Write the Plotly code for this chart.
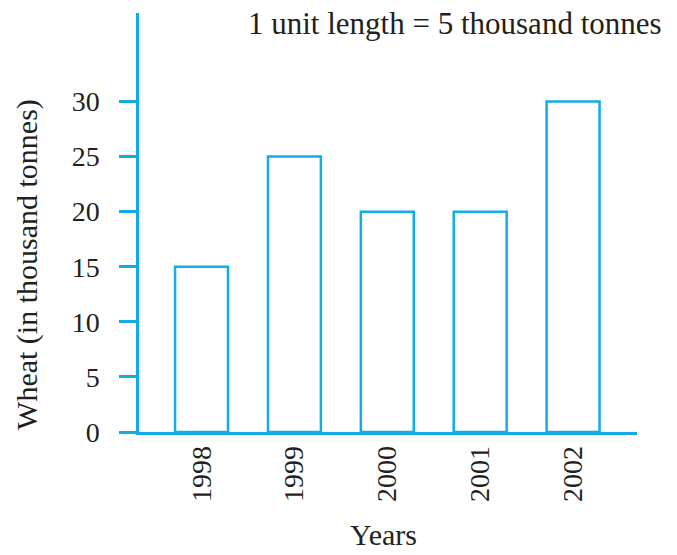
import plotly.graph_objects as go

# Wheat production by year (thousand tonnes)
years = ["1998", "1999", "2000", "2001", "2002"]
wheat = [15, 25, 20, 20, 30]
y_ticks = [0, 5, 10, 15, 20, 25, 30]

BLUE = "#14ACE8"
FONT = "'Liberation Serif', 'Times New Roman', 'DejaVu Serif', serif"
INK = "#231f20"
TICK_SIZE = 28
LABEL_SIZE = 30

fig = go.Figure(
    go.Bar(
        x=years,
        y=wheat,
        width=0.57,
        marker=dict(color="white", line=dict(color=BLUE, width=2.5)),
    )
)

fig.update_layout(
    width=677,
    height=555,
    margin=dict(l=139, r=40, t=13, b=123),
    paper_bgcolor="white",
    plot_bgcolor="white",
    showlegend=False,
    font=dict(family=FONT, size=TICK_SIZE, color=INK),
    xaxis=dict(
        type="category",
        range=[-0.673, 4.688],
        showline=True,
        linecolor=BLUE,
        linewidth=2.5,
        showgrid=False,
        zeroline=False,
        ticks="",
        tickangle=-90,
        ticklabelstandoff=0,
        tickfont=dict(family=FONT, size=TICK_SIZE, color=INK),
    ),
    yaxis=dict(
        range=[0, 38.03],
        tickvals=y_ticks,
        showline=True,
        linecolor=BLUE,
        linewidth=2.5,
        showgrid=False,
        zeroline=False,
        ticks="outside",
        ticklen=17,
        tickwidth=2.5,
        tickcolor=BLUE,
        ticklabelstandoff=14,
        tickfont=dict(family=FONT, size=TICK_SIZE, color=INK),
    ),
    annotations=[
        dict(
            text="Wheat (in thousand tonnes)",
            xref="paper", yref="paper",
            x=-0.225, y=0.401,
            xanchor="center", yanchor="middle",
            textangle=-90,
            showarrow=False,
            font=dict(family=FONT, size=LABEL_SIZE, color=INK),
        ),
        dict(
            text="Years",
            xref="paper", yref="paper",
            x=0.49, y=-0.244,
            xanchor="center", yanchor="middle",
            showarrow=False,
            font=dict(family=FONT, size=LABEL_SIZE, color=INK),
        ),
        dict(
            text="1 unit length = 5 thousand tonnes",
            xref="paper", yref="paper",
            x=1.054, y=0.974,
            xanchor="right", yanchor="middle",
            showarrow=False,
            font=dict(family=FONT, size=31, color=INK),
        ),
    ],
)

fig.write_html("out.html")
